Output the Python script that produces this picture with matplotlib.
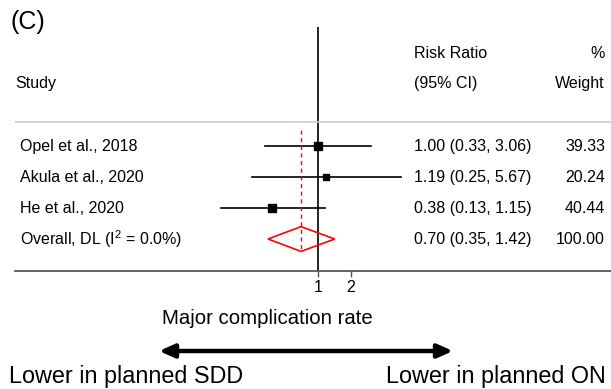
import numpy as np
import matplotlib
matplotlib.use('Agg')
import matplotlib.pyplot as plt
from matplotlib.ticker import NullLocator
from matplotlib.transforms import blended_transform_factory

plt.rcParams['font.family'] = ['Liberation Sans', 'DejaVu Sans']
plt.rcParams['mathtext.fontset'] = 'custom'
plt.rcParams['mathtext.rm'] = 'Liberation Sans'
plt.rcParams['mathtext.it'] = 'Liberation Sans:italic'

studies = ['Opel et al., 2018', 'Akula et al., 2020', 'He et al., 2020']
rr = [1.00, 1.19, 0.38]
lo = [0.33, 0.25, 0.13]
hi = [3.06, 5.67, 1.15]
weight = [39.33, 20.24, 40.44]
overall = (0.70, 0.35, 1.42)
overall_label = 'Overall, DL (I$^2$ = 0.0%)'
xticks = [1, 2]

W, H = 611, 389
fig = plt.figure(figsize=(W / 100, H / 100), dpi=100)

def fx(px):
    return px / W

def fy(py):
    return 1 - py / H

# plot axes: log2 scale, 33 px per doubling, 1 at x=318
ax = fig.add_axes([fx(15), fy(270.5), fx(611) - fx(15), fy(27) - fy(270.5)])
ax.set_xscale('log', base=2)
ax.set_xlim(2 ** ((15 - 318) / 33), 2 ** ((611 - 318) / 33))
ax.set_ylim(4.016, -3.839)
for s in ['left', 'top', 'right']:
    ax.spines[s].set_visible(False)
ax.spines['bottom'].set_color('#555555')
ax.spines['bottom'].set_linewidth(1.3)
ax.set_yticks([])
ax.xaxis.set_minor_locator(NullLocator())
ax.set_xticks(xticks)
ax.set_xticklabels([str(t) for t in xticks])
ax.tick_params(axis='x', length=4, width=1, color='#555555', labelsize=11.5, pad=3)
ax.patch.set_visible(False)

rows = np.arange(len(studies))
ax.axvline(1, color='black', lw=1.2, zorder=2)

# separator line under headers
ax.axhline(-0.77, color='#cccccc', lw=1.2)

# studies
for i in rows:
    ax.plot([lo[i], hi[i]], [i, i], color='black', lw=1.2, zorder=3)
    ax.plot(rr[i], i, marker='s', color='black', ms=0.92 * np.sqrt(weight[i]),
            ls='none', zorder=4)

# overall diamond
oy = len(studies)
est, olo, ohi = overall
ax.fill([olo, est, ohi, est, olo], [oy, oy - 0.4, oy, oy + 0.4, oy],
        facecolor='none', edgecolor='red', lw=1.2, zorder=4)
ax.plot([est, est], [-0.52, oy + 0.4], color='red', lw=1, ls=(0, (3, 2.5)), zorder=3)

# text columns
tr = blended_transform_factory(fig.transFigure, ax.transData)
fs = 11.5
ax.text(fx(15), -2.03, 'Study', transform=tr, fontsize=fs, va='center')
ax.text(fx(414), -2.97, 'Risk Ratio', transform=tr, fontsize=fs, va='center')
ax.text(fx(414), -2.03, '(95% CI)', transform=tr, fontsize=fs, va='center')
ax.text(fx(605), -2.97, '%', transform=tr, fontsize=fs, va='center', ha='right')
ax.text(fx(605), -2.03, 'Weight', transform=tr, fontsize=fs, va='center', ha='right')

labels = studies + [overall_label]
ests = rr + [overall[0]]
los = lo + [overall[1]]
his = hi + [overall[2]]
weights = weight + [100.0]
for i, lab in enumerate(labels):
    ax.text(fx(20), i, lab, transform=tr, fontsize=fs, va='center')
    ax.text(fx(414), i, '%.2f (%.2f, %.2f)' % (ests[i], los[i], his[i]),
            transform=tr, fontsize=fs, va='center')
    ax.text(fx(605), i, '%.2f' % weights[i], transform=tr, fontsize=fs,
            va='center', ha='right')

# panel letter and bottom annotations
fig.text(fx(10), fy(22), '(C)', fontsize=18, va='center')
fig.text(fx(267), fy(318), 'Major complication rate', fontsize=14.7,
         ha='center', va='center')
ax.annotate('', xy=(fx(453), fy(351)), xytext=(fx(159), fy(351)),
            xycoords='figure fraction', textcoords='figure fraction',
            annotation_clip=False,
            arrowprops=dict(arrowstyle='<|-|>,head_length=0.9,head_width=0.4',
                            color='black', lw=3.2, shrinkA=0, shrinkB=0))
fig.text(fx(9), fy(377), 'Lower in planned SDD', fontsize=16.8, va='center')
fig.text(fx(386), fy(377), 'Lower in planned ON', fontsize=16.8, va='center')

fig.savefig('out.png', dpi=100)
